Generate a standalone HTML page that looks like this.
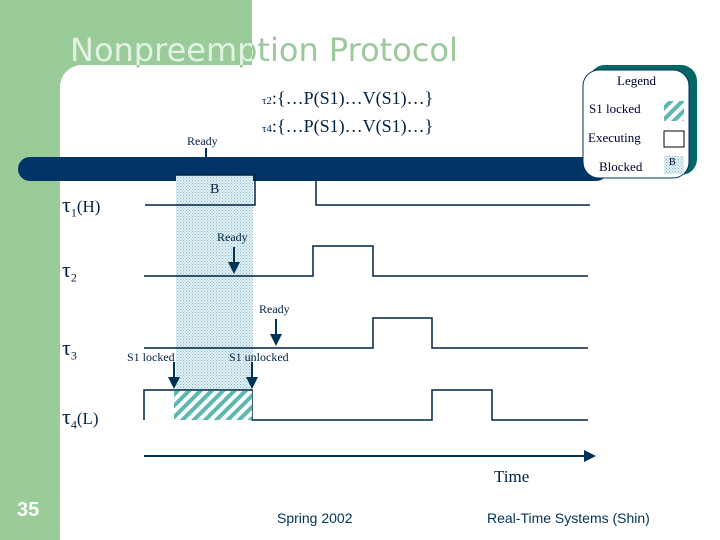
<!DOCTYPE html>
<html><head><style>
body{margin:0;width:720px;height:540px;overflow:hidden;background:#fff;position:relative;font-family:"Liberation Serif",serif;}
.a{position:absolute;white-space:nowrap;}
</style></head><body>
<div class="a" style="left:0;top:0;width:252px;height:120px;background:#99cc99"></div>
<div class="a" style="left:0;top:0;width:60px;height:540px;background:#99cc99"></div>
<div class="a" style="left:60px;top:65px;width:660px;height:475px;background:#fff;border-top-left-radius:22px"></div>
<div class="a" style="left:70px;top:31px;font-family:'DejaVu Sans',sans-serif;font-size:32px;color:#9cc99c">Nonpreemption Protocol</div>
<div class="a" style="left:0;top:0;width:252px;height:65px;overflow:hidden"><div class="a" style="left:70px;top:31px;font-family:'DejaVu Sans',sans-serif;font-size:32px;color:#e4f2e4">Nonpreemption Protocol</div></div>
<svg class="a" style="left:0;top:0" width="720" height="540">
<defs>
<pattern id="dot" width="3" height="3" patternUnits="userSpaceOnUse"><rect width="3" height="3" fill="#e6f2f6"/><rect width="1" height="1" fill="#7fb8c8"/><rect x="1.5" y="1.5" width="1" height="1" fill="#7fb8c8"/></pattern>
<pattern id="hat" width="8" height="8" patternUnits="userSpaceOnUse" patternTransform="rotate(45)"><rect width="8" height="8" fill="#fff"/><rect width="4" height="8" fill="#5cb8b0"/></pattern>
<marker id="ar" markerWidth="6" markerHeight="6" refX="5" refY="3" orient="auto"><path d="M0,0L6,3L0,6z" fill="#003355"/></marker>
</defs>
<line x1="206" y1="148" x2="206" y2="160" stroke="#003366" stroke-width="2"/>
<rect x="18" y="157" width="590" height="24" rx="12" fill="#003366"/>
<rect x="176" y="175" width="77" height="215" fill="url(#dot)"/>
<g stroke="#002244" stroke-width="1.5" fill="none">
<polyline points="145,205 176,205"/>
<polyline points="176,175 255,175 255,205 176,205"/>
<polyline points="316,181 316,205 590,205"/>
<polyline points="144,276 313,276 313,246 373,246 373,276 588,276"/>
<polyline points="144,348 373,348 373,318 432,318 432,348 588,348"/>
<polyline points="144,420 144,390 252,390 252,420 432,420 432,390 492,390 492,420 588,420"/>
</g>
<rect x="174" y="391" width="78" height="29" fill="url(#hat)"/>
<g stroke="#003355" stroke-width="2" marker-end="url(#ar)">
<line x1="234" y1="247" x2="234" y2="272"/>
<line x1="276" y1="319" x2="276" y2="344"/>
<line x1="174" y1="362" x2="174" y2="387"/>
<line x1="252" y1="362" x2="252" y2="387"/>
<line x1="144" y1="456" x2="594" y2="456"/>
</g>
<rect x="589" y="65" width="108" height="110" rx="16" fill="#006666"/>
<rect x="583" y="70" width="106" height="108" rx="16" fill="#fff" stroke="#003355" stroke-width="1"/>
<rect x="664" y="101" width="20" height="20" fill="url(#hat)"/>
<rect x="664" y="131" width="20" height="16" fill="#fff" stroke="#000" stroke-width="1"/>
<rect x="664" y="156" width="20" height="18" fill="url(#dot)"/>
</svg>
<div class="a" style="left:617px;top:73px;font-size:13px;color:#003">Legend</div>
<div class="a" style="left:589px;top:101px;font-size:13px;color:#003">S1 locked</div>
<div class="a" style="left:588px;top:130px;font-size:13px;color:#003">Executing</div>
<div class="a" style="left:599px;top:159px;font-size:13px;color:#003">Blocked</div>
<div class="a" style="left:669px;top:157px;font-size:10px;color:#003">B</div>
<div class="a" style="left:262px;top:88px;font-size:18px;color:#002244"><span style="font-size:11px">τ2</span>:{…P(S1)…V(S1)…}</div>
<div class="a" style="left:262px;top:116px;font-size:18px;color:#002244"><span style="font-size:11px">τ4</span>:{…P(S1)…V(S1)…}</div>
<div class="a" style="left:187px;top:134px;font-size:12px;color:#002244">Ready</div>
<div class="a" style="left:210px;top:182px;font-size:14px;color:#002244">B</div>
<div class="a" style="left:217px;top:230px;font-size:12px;color:#002244">Ready</div>
<div class="a" style="left:259px;top:302px;font-size:12px;color:#002244">Ready</div>
<div class="a" style="left:127px;top:350px;font-size:12px;color:#002244">S1 locked</div>
<div class="a" style="left:229px;top:350px;font-size:12px;color:#002244">S1 unlocked</div>
<div class="a" style="left:62px;top:192px;font-size:17px;color:#002244"><span style="font-size:22px">τ</span><sub style="font-size:12px">1</sub>(H)</div>
<div class="a" style="left:62px;top:257px;font-size:17px;color:#002244"><span style="font-size:22px">τ</span><sub style="font-size:12px">2</sub></div>
<div class="a" style="left:62px;top:335px;font-size:17px;color:#002244"><span style="font-size:22px">τ</span><sub style="font-size:12px">3</sub></div>
<div class="a" style="left:62px;top:404px;font-size:17px;color:#002244"><span style="font-size:22px">τ</span><sub style="font-size:12px">4</sub>(L)</div>
<div class="a" style="left:494px;top:467px;font-size:17px;color:#002244">Time</div>
<div class="a" style="left:17px;top:499px;font-family:'Liberation Sans',sans-serif;font-size:20px;font-weight:bold;color:#fff">35</div>
<div class="a" style="left:277px;top:510px;font-family:'Liberation Sans',sans-serif;font-size:14px;color:#003355">Spring 2002</div>
<div class="a" style="left:487px;top:510px;font-family:'Liberation Sans',sans-serif;font-size:14px;color:#003355">Real-Time Systems (Shin)</div>
</body></html>
